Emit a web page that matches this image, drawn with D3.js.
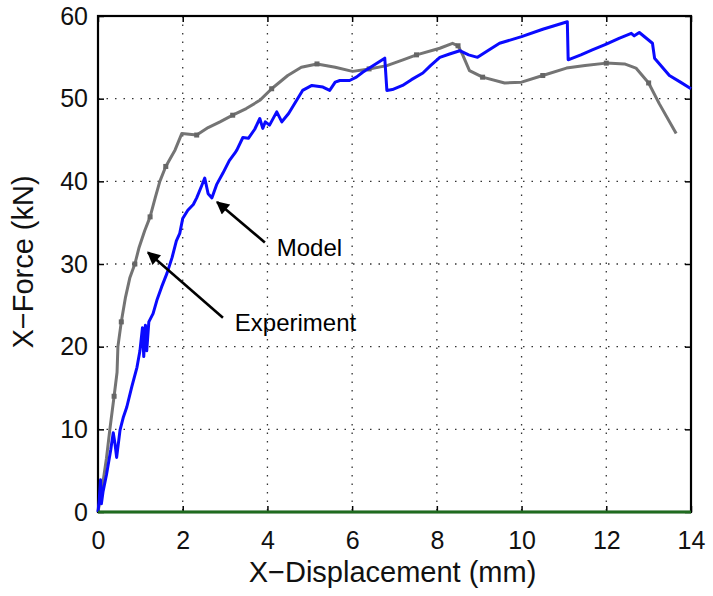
<!DOCTYPE html>
<html>
<head>
<meta charset="utf-8">
<script src="https://cdn.jsdelivr.net/npm/d3@7"></script>
<style>
  html, body { margin: 0; padding: 0; background: #fff; }
  svg { display: block; font-family: "Liberation Sans", Arial, sans-serif; }
</style>
</head>
<body>
<svg id="chart" width="713" height="596"></svg>
<script>
// data: [displacement mm, force kN]
const experiment = [
  [0, 0], [0.1, 3], [0.2, 6.5], [0.28, 10], [0.38, 14], [0.45, 16.9], [0.47, 20],
  [0.55, 23], [0.65, 26], [0.75, 28.3], [0.87, 30], [0.97, 32], [1.1, 34], [1.23, 35.7],
  [1.35, 38], [1.46, 40], [1.6, 41.8], [1.82, 43.8], [1.98, 45.8], [2.33, 45.6],
  [2.6, 46.5], [2.88, 47.2], [3.18, 48], [3.5, 48.8], [3.82, 49.8], [4.1, 51.2],
  [4.48, 52.8], [4.8, 53.8], [5.17, 54.2], [5.6, 53.8], [6.01, 53.3], [6.4, 53.6],
  [6.82, 54.0], [7.2, 54.7], [7.52, 55.3], [8.07, 56.1], [8.37, 56.7], [8.5, 56.4],
  [8.61, 55.3], [8.77, 53.4], [9.08, 52.6], [9.6, 51.9], [10.0, 52.0], [10.5, 52.8],
  [11.06, 53.7], [11.5, 54.0], [12.0, 54.3], [12.43, 54.2], [12.7, 53.7], [13.0, 51.9],
  [13.25, 49.4], [13.65, 45.8]
];

const model = [
  [0, 0], [0.03, 1.5], [0.06, 3.9], [0.08, 1.0], [0.12, 2.5], [0.2, 4.5], [0.3, 7.5],
  [0.36, 9.6], [0.4, 8.3], [0.44, 6.6], [0.52, 9.9], [0.6, 11.5], [0.68, 12.7],
  [0.8, 15.2], [0.92, 17.5], [0.99, 19.5], [1.05, 22.3], [1.08, 18.8], [1.12, 22.6],
  [1.15, 19.5], [1.2, 23], [1.3, 24.0], [1.39, 25.6], [1.5, 27.2], [1.63, 28.9],
  [1.75, 30.8], [1.85, 32.8], [1.93, 33.7], [2.0, 35.5], [2.12, 36.5], [2.25, 37.2],
  [2.33, 38.0], [2.45, 39.5], [2.52, 40.4], [2.6, 38.5], [2.69, 38.0], [2.8, 39.6],
  [2.95, 41.0], [3.1, 42.5], [3.23, 43.4], [3.28, 43.8], [3.42, 45.3], [3.55, 45.2],
  [3.7, 46.3], [3.82, 47.6], [3.89, 46.4], [3.95, 47.2], [4.05, 46.8], [4.22, 48.4],
  [4.34, 47.2], [4.5, 48.2], [4.69, 49.8], [4.83, 51.0], [5.05, 51.6], [5.31, 51.4],
  [5.47, 51.0], [5.6, 52.0], [5.71, 52.2], [5.94, 52.2], [6.1, 52.6], [6.25, 53.2],
  [6.5, 54.0], [6.77, 54.9], [6.82, 51.0], [6.95, 51.1], [7.19, 51.6], [7.4, 52.3],
  [7.67, 53.1], [7.85, 54.0], [8.07, 55.0], [8.3, 55.4], [8.54, 55.8], [8.75, 55.3],
  [8.96, 55.0], [9.2, 55.8], [9.48, 56.7], [10.0, 57.5], [10.5, 58.4], [11.08, 59.3],
  [11.1, 54.7], [11.4, 55.3], [11.67, 55.9], [12.0, 56.6], [12.3, 57.3], [12.59, 57.9],
  [12.66, 57.6], [12.78, 58.0], [13.09, 56.7], [13.14, 54.9], [13.49, 52.8],
  [13.75, 52.0], [14, 51.2]
];

const xTicks = [0, 2, 4, 6, 8, 10, 12, 14];
const yTicks = [0, 10, 20, 30, 40, 50, 60];

// annotations: text position and arrow (tail -> tip), in data units
const notes = [
  { label: "Model", text: [4.22, 31.0], from: [3.94, 32.6], to: [2.81, 37.5] },
  { label: "Experiment", text: [3.23, 21.9], from: [2.95, 23.5], to: [1.18, 31.4] }
];

const svg = d3.select("#chart");
const margin = { top: 16, right: 22, bottom: 84, left: 98 };
const width = +svg.attr("width") - margin.left - margin.right;
const height = +svg.attr("height") - margin.top - margin.bottom;

svg.append("rect").attr("width", 713).attr("height", 596).attr("fill", "#fff");

const g = svg.append("g").attr("transform", `translate(${margin.left},${margin.top})`);

const x = d3.scaleLinear().domain([0, 14]).range([0, width]);
const y = d3.scaleLinear().domain([0, 60]).range([height, 0]);

// grid
g.append("g").selectAll("line")
  .data(xTicks.slice(1, -1))
  .join("line")
  .attr("x1", d => x(d)).attr("x2", d => x(d))
  .attr("y1", 0).attr("y2", height)
  .attr("stroke", "#333").attr("stroke-width", 1.3)
  .attr("stroke-dasharray", "1.5,7");

g.append("g").selectAll("line")
  .data(yTicks.slice(1, -1))
  .join("line")
  .attr("x1", 0).attr("x2", width)
  .attr("y1", d => y(d)).attr("y2", d => y(d))
  .attr("stroke", "#333").attr("stroke-width", 1.3)
  .attr("stroke-dasharray", "1.5,7");

// axes with inward ticks
const styleAxis = sel => {
  sel.select(".domain").remove();
  sel.selectAll(".tick line").attr("stroke", "#000").attr("stroke-width", 1.5);
  sel.selectAll("text").attr("fill", "#111").attr("font-size", 25);
};

g.append("g")
  .attr("transform", `translate(0,${height})`)
  .call(d3.axisBottom(x).tickValues(xTicks).tickSize(-6).tickPadding(19))
  .call(styleAxis);

g.append("g")
  .call(d3.axisLeft(y).tickValues(yTicks).tickSize(-6).tickPadding(10))
  .call(styleAxis);

g.append("g")
  .call(d3.axisTop(x).tickValues(xTicks).tickSize(-6).tickFormat(""))
  .call(styleAxis);

g.append("g")
  .attr("transform", `translate(${width},0)`)
  .call(d3.axisRight(y).tickValues(yTicks).tickSize(-6).tickFormat(""))
  .call(styleAxis);

// frame
g.append("rect")
  .attr("width", width).attr("height", height)
  .attr("fill", "none").attr("stroke", "#000").attr("stroke-width", 2.2);

const line = d3.line().x(d => x(d[0])).y(d => y(d[1]));

// experiment curve (grey with small markers)
g.append("path")
  .datum(experiment)
  .attr("fill", "none")
  .attr("stroke", "#747474")
  .attr("stroke-width", 3)
  .attr("stroke-linejoin", "round")
  .attr("d", line);

g.append("g").selectAll("rect")
  .data(experiment.filter((d, i) => i % 3 === 1))
  .join("rect")
  .attr("x", d => x(d[0]) - 2.5).attr("y", d => y(d[1]) - 2.5)
  .attr("width", 5).attr("height", 5)
  .attr("fill", "#666");

// model curve
g.append("path")
  .datum(model)
  .attr("fill", "none")
  .attr("stroke", "#0a0aff")
  .attr("stroke-width", 3)
  .attr("stroke-linejoin", "round")
  .attr("d", line);

// zero line
g.append("line")
  .attr("x1", x(0)).attr("x2", x(14))
  .attr("y1", y(0)).attr("y2", y(0))
  .attr("stroke", "#1f6b1f").attr("stroke-width", 3);

// annotations
svg.append("defs").append("marker")
  .attr("id", "arrow")
  .attr("viewBox", "0 0 10 10")
  .attr("refX", 9).attr("refY", 5)
  .attr("markerWidth", 5.5).attr("markerHeight", 5)
  .attr("markerUnits", "strokeWidth")
  .attr("orient", "auto")
  .append("path").attr("d", "M0,0 L10,5 L0,10 z").attr("fill", "#000");

notes.forEach(n => {
  g.append("line")
    .attr("x1", x(n.from[0])).attr("y1", y(n.from[1]))
    .attr("x2", x(n.to[0])).attr("y2", y(n.to[1]))
    .attr("stroke", "#000").attr("stroke-width", 2.6)
    .attr("marker-end", "url(#arrow)");
  g.append("text")
    .attr("x", x(n.text[0])).attr("y", y(n.text[1]))
    .attr("font-size", 24).attr("fill", "#000")
    .text(n.label);
});

// axis titles
svg.append("text")
  .attr("x", margin.left + width / 2 - 2).attr("y", 582)
  .attr("text-anchor", "middle")
  .attr("font-size", 29).attr("fill", "#111")
  .text("X\u2212Displacement (mm)");

svg.append("text")
  .attr("transform", `translate(33,${262}) rotate(-90)`)
  .attr("text-anchor", "middle")
  .attr("font-size", 29).attr("fill", "#111")
  .text("X\u2212Force (kN)");
</script>
</body>
</html>
